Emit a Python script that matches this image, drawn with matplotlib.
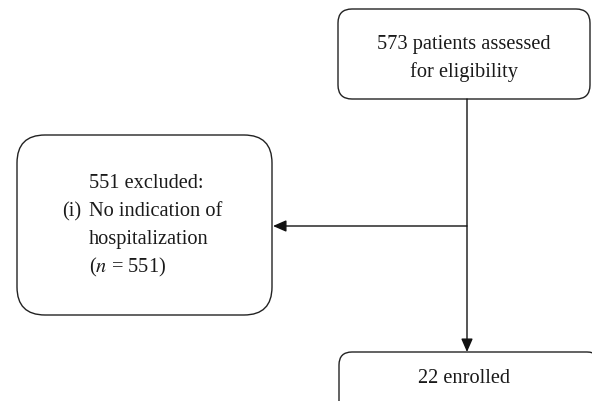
import matplotlib.pyplot as plt
from matplotlib.patches import FancyBboxPatch

# flow counts
n_assessed = 573
n_excluded = 551
n_enrolled = 22
reason_lines = ["No indication of", "hospitalization", f"($n$ = {n_excluded})"]

plt.rcParams['font.family'] = ['Liberation Serif', 'DejaVu Serif']
plt.rcParams['mathtext.fontset'] = 'stix'

fig = plt.figure(figsize=(5.92, 4.02), dpi=100)
ax = fig.add_axes([0, 0, 1, 1])
ax.set_xlim(0, 592)
ax.set_ylim(402, 0)
ax.axis("off")

lw = 1.0
fs = 14.7
tc = "#1a1a1a"


def box(x0, y0, x1, y1, r):
    p = FancyBboxPatch((x0, y0), x1 - x0, y1 - y0,
                       boxstyle=f"round,pad=0,rounding_size={r}",
                       fc="white", ec="#222222", lw=lw)
    ax.add_patch(p)


# boxes
box(338, 10, 590, 100, 14)
box(17, 136, 272, 316, 28)
box(339, 353, 600, 430, 13)

ax.text(464, 44, f"{n_assessed} patients assessed", ha="center", va="center",
        fontsize=fs, color=tc)
ax.text(464, 72, "for eligibility", ha="center", va="center",
        fontsize=fs, color=tc)

ax.text(89, 184, f"{n_excluded} excluded:", ha="left", va="center",
        fontsize=fs, color=tc)
ax.text(62, 212, "(i)", ha="left", va="center", fontsize=fs, color=tc)
for i, line in enumerate(reason_lines):
    ax.text(89, 212 + i * 27.5, line, ha="left", va="center",
            fontsize=fs, color=tc)

ax.text(464, 379, f"{n_enrolled} enrolled", ha="center", va="center",
        fontsize=fs, color=tc)

# arrows
ax.annotate("", xy=(467, 353), xytext=(467, 100),
            arrowprops=dict(arrowstyle="-|>,head_length=0.8,head_width=0.35",
                            color="#111111", lw=lw, shrinkA=0, shrinkB=0))
ax.annotate("", xy=(273, 227), xytext=(467, 227),
            arrowprops=dict(arrowstyle="-|>,head_length=0.8,head_width=0.35",
                            color="#111111", lw=lw, shrinkA=0, shrinkB=0))

fig.savefig("out.png", dpi=100)
